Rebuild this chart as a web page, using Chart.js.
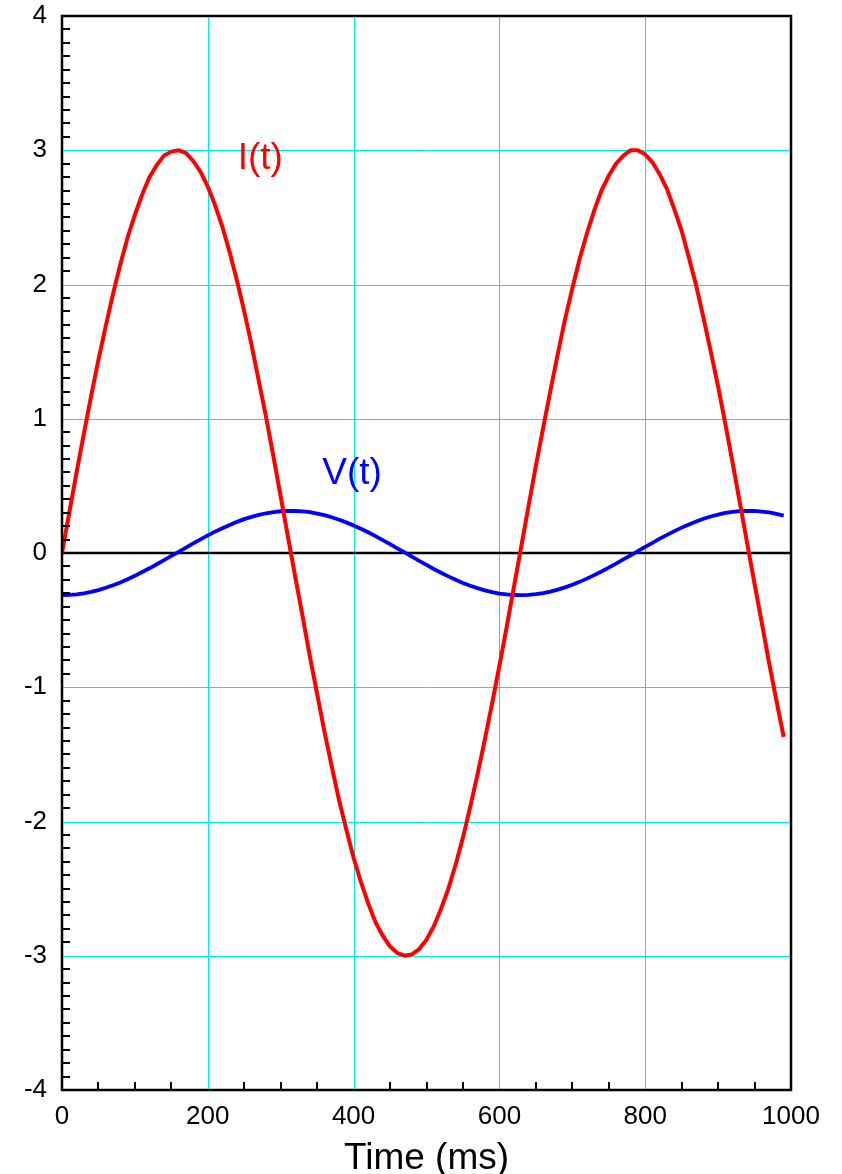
<!DOCTYPE html>
<html>
<head>
<meta charset="utf-8">
<title>I(t) and V(t)</title>
<script src="https://cdn.jsdelivr.net/npm/chart.js@4.4.1/dist/chart.umd.min.js"></script>
<style>
  html, body { margin: 0; padding: 0; background: #fff; }
  #wrap { width: 842px; height: 1174px; }
</style>
</head>
<body>
<div id="wrap"><canvas id="waveChart" width="842" height="1174"></canvas></div>
<script>
// sample times (ms)
const timeMs = [
  0, 10, 20, 30, 40, 50, 60, 70, 80, 90,
  100, 110, 120, 130, 140, 150, 160, 170, 180, 190,
  200, 210, 220, 230, 240, 250, 260, 270, 280, 290,
  300, 310, 320, 330, 340, 350, 360, 370, 380, 390,
  400, 410, 420, 430, 440, 450, 460, 470, 480, 490,
  500, 510, 520, 530, 540, 550, 560, 570, 580, 590,
  600, 610, 620, 630, 640, 650, 660, 670, 680, 690,
  700, 710, 720, 730, 740, 750, 760, 770, 780, 790,
  800, 810, 820, 830, 840, 850, 860, 870, 880, 890,
  900, 910, 920, 930, 940, 950, 960, 970, 980, 990
];

// current I(t)
const current = [
  0, 0.30, 0.60, 0.89, 1.17, 1.44, 1.69, 1.93, 2.15, 2.35,
  2.52, 2.67, 2.80, 2.89, 2.96, 2.99, 3.00, 2.98, 2.92, 2.84,
  2.73, 2.59, 2.43, 2.24, 2.03, 1.80, 1.55, 1.28, 1.01, 0.72,
  0.42, 0.12, -0.18, -0.47, -0.77, -1.05, -1.33, -1.59, -1.84, -2.06,
  -2.27, -2.45, -2.61, -2.75, -2.85, -2.93, -2.98, -3.00, -2.99, -2.95,
  -2.88, -2.78, -2.65, -2.50, -2.32, -2.12, -1.89, -1.65, -1.39, -1.12,
  -0.84, -0.55, -0.25, 0.05, 0.35, 0.65, 0.93, 1.21, 1.48, 1.74,
  1.97, 2.19, 2.38, 2.55, 2.70, 2.81, 2.90, 2.96, 3.00, 3.00,
  2.97, 2.91, 2.82, 2.71, 2.56, 2.40, 2.20, 1.99, 1.75, 1.50,
  1.24, 0.96, 0.67, 0.37, 0.07, -0.23, -0.52, -0.82, -1.10, -1.37
];

// voltage V(t)
const voltage = [
  -0.314, -0.312, -0.308, -0.300, -0.289, -0.276, -0.259, -0.240, -0.219, -0.195,
  -0.170, -0.142, -0.114, -0.084, -0.053, -0.022, 0.009, 0.040, 0.071, 0.102,
  0.131, 0.159, 0.185, 0.209, 0.232, 0.252, 0.269, 0.284, 0.296, 0.305,
  0.311, 0.314, 0.313, 0.310, 0.304, 0.294, 0.282, 0.266, 0.248, 0.228,
  0.205, 0.180, 0.154, 0.126, 0.096, 0.066, 0.035, 0.004, -0.027, -0.059,
  -0.089, -0.119, -0.147, -0.174, -0.199, -0.223, -0.244, -0.262, -0.278, -0.291,
  -0.302, -0.309, -0.313, -0.314, -0.312, -0.307, -0.298, -0.287, -0.273, -0.256,
  -0.237, -0.215, -0.191, -0.165, -0.138, -0.109, -0.079, -0.048, -0.017, 0.014,
  0.046, 0.076, 0.107, 0.135, 0.163, 0.189, 0.213, 0.235, 0.255, 0.272,
  0.286, 0.298, 0.306, 0.312, 0.314, 0.313, 0.309, 0.302, 0.292, 0.279
];

const xTicks = [0, 200, 400, 600, 800, 1000];
const yTicks = [-4, -3, -2, -1, 0, 1, 2, 3, 4];

// curve name tags, placed in data units
const curveLabels = [
  { text: 'I(t)', t: 272, v: 2.94, color: '#ff0000' },
  { text: 'V(t)', t: 398, v: 0.59, color: '#0000ff' }
];

const FONT = '"Liberation Sans", Arial, Helvetica, sans-serif';
const CYAN = '#00e6ee';

const toPoints = (ys) => timeMs.map((t, i) => ({ x: t, y: ys[i] }));

// cyan grid and the black zero line, under the curves
const gridLines = {
  id: 'gridLines',
  beforeDatasetsDraw(chart) {
    const { ctx, chartArea: a, scales: { x, y } } = chart;
    ctx.save();
    ctx.strokeStyle = CYAN;
    ctx.lineWidth = 1;
    ctx.beginPath();
    xTicks.slice(1, -1).forEach(v => {
      const px = Math.round(x.getPixelForValue(v)) + 0.5;
      ctx.moveTo(px, a.top);
      ctx.lineTo(px, a.bottom);
    });
    yTicks.slice(1, -1).forEach(v => {
      if (v === 0) return;
      const py = Math.round(y.getPixelForValue(v)) + 0.5;
      ctx.moveTo(a.left, py);
      ctx.lineTo(a.right, py);
    });
    ctx.stroke();

    ctx.strokeStyle = '#000';
    ctx.lineWidth = 2.5;
    ctx.beginPath();
    const zy = y.getPixelForValue(0);
    ctx.moveTo(a.left, zy);
    ctx.lineTo(a.right, zy);
    ctx.stroke();
    ctx.restore();
  }
};

// frame, inner minor ticks and curve tags
const frameAndTicks = {
  id: 'frameAndTicks',
  afterDraw(chart) {
    const { ctx, chartArea: a, scales: { x, y } } = chart;
    ctx.save();
    ctx.strokeStyle = '#000';
    ctx.lineWidth = 2;
    ctx.beginPath();
    for (let t = 50; t < 1000; t += 50) {
      if (t % 200 === 0) continue;
      const px = Math.round(x.getPixelForValue(t));
      ctx.moveTo(px, a.bottom);
      ctx.lineTo(px, a.bottom - 8);
    }
    for (let i = -39; i < 40; i++) {
      if (i % 10 === 0) continue;
      const py = Math.round(y.getPixelForValue(i / 10));
      ctx.moveTo(a.left, py);
      ctx.lineTo(a.left + 8, py);
    }
    ctx.stroke();

    ctx.lineWidth = 2.5;
    ctx.strokeRect(a.left, a.top, a.right - a.left, a.bottom - a.top);

    ctx.font = '37px ' + FONT;
    ctx.textAlign = 'center';
    ctx.textBaseline = 'middle';
    curveLabels.forEach(l => {
      ctx.fillStyle = l.color;
      ctx.fillText(l.text, x.getPixelForValue(l.t), y.getPixelForValue(l.v));
    });
    ctx.restore();
  }
};

new Chart(document.getElementById('waveChart'), {
  type: 'line',
  data: {
    datasets: [
      {
        label: 'I(t)',
        data: toPoints(current),
        borderColor: '#ff0000',
        borderWidth: 4,
        pointRadius: 0,
        tension: 0,
        fill: false
      },
      {
        label: 'V(t)',
        data: toPoints(voltage),
        borderColor: '#0000ff',
        borderWidth: 3.8,
        pointRadius: 0,
        tension: 0,
        fill: false
      }
    ]
  },
  options: {
    responsive: false,
    animation: false,
    devicePixelRatio: 1,
    layout: { padding: { left: 0, right: 51, top: 16, bottom: 0 } },
    plugins: {
      legend: { display: false },
      tooltip: { enabled: false }
    },
    scales: {
      x: {
        type: 'linear',
        min: 0,
        max: 1000,
        afterFit: (scale) => {
          scale.height = 84;
          scale.paddingLeft = 0;
          scale.paddingRight = 0;
        },
        afterBuildTicks: (scale) => { scale.ticks = xTicks.map(v => ({ value: v })); },
        border: { display: false },
        grid: { display: false, drawTicks: false },
        ticks: {
          padding: 11,
          maxRotation: 0,
          autoSkip: false,
          color: '#000',
          font: { family: FONT, size: 26 },
          callback: (v) => String(v)
        },
        title: {
          display: true,
          text: 'Time (ms)',
          color: '#000',
          font: { family: FONT, size: 37, lineHeight: 0.8 },
          padding: 0
        }
      },
      y: {
        type: 'linear',
        min: -4,
        max: 4,
        afterFit: (scale) => {
          scale.width = 62;
          scale.paddingTop = 0;
          scale.paddingBottom = 0;
        },
        afterBuildTicks: (scale) => { scale.ticks = yTicks.map(v => ({ value: v })); },
        border: { display: false },
        grid: { display: false, drawTicks: false },
        ticks: {
          padding: 15,
          color: '#000',
          font: { family: FONT, size: 26 },
          callback: (v) => String(v)
        }
      }
    }
  },
  plugins: [gridLines, frameAndTicks]
});
</script>
</body>
</html>
